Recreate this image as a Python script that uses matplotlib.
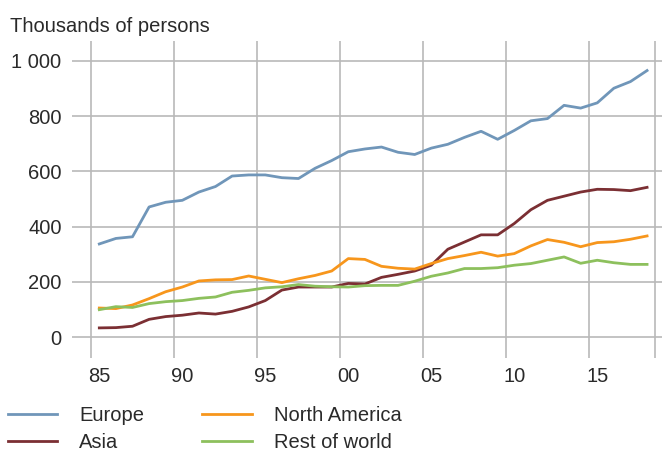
import matplotlib
matplotlib.use("Agg")
import matplotlib.pyplot as plt
from matplotlib.ticker import FixedLocator, FuncFormatter

years = list(range(1985, 2019))
europe = [337, 357, 363, 471, 488, 495, 525, 545, 583, 587, 587, 577, 574, 611, 639, 671,
          681, 688, 669, 661, 684, 698, 723, 745, 716, 748, 783, 791, 839, 829, 848, 901, 925, 965]
asia = [33, 34, 39, 64, 74, 79, 87, 83, 93, 109, 132, 170, 181, 181, 181, 194,
        192, 216, 227, 239, 260, 318, 344, 370, 370, 411, 461, 495, 510, 525, 535, 534, 530, 542]
north_america = [105, 103, 116, 139, 164, 181, 203, 207, 208, 221, 209, 197, 211, 223, 239, 284,
                 281, 256, 249, 246, 266, 284, 295, 307, 293, 302, 330, 353, 343, 327, 342, 345, 354, 366]
rest_of_world = [99, 110, 107, 121, 128, 132, 140, 145, 162, 169, 178, 182, 190, 184, 182, 181,
                 186, 187, 187, 202, 220, 232, 248, 248, 251, 260, 266, 278, 290, 267, 278, 269, 263, 263]

series = [("Europe", europe, "#7096b9"),
          ("Asia", asia, "#7b2f33"),
          ("North America", north_america, "#f7961c"),
          ("Rest of world", rest_of_world, "#8dc05d")]

tick_years = [1985, 1990, 1995, 2000, 2005, 2010, 2015]
tick_labels = ["85", "90", "95", "00", "05", "10", "15"]
y_ticks = [0, 200, 400, 600, 800, 1000]

plt.rcParams['font.family'] = ['Liberation Sans', 'DejaVu Sans']
text_color = "#2a2a2a"
grid_color = "#b9b9b9"
fs = 14.5

fig = plt.figure(figsize=(6.62, 4.54), dpi=100)
ax = fig.add_axes([72/662, 1 - 358/454, 1 - 72/662, (358 - 41)/454])

xs = [y + 0.5 for y in years]
handles = {}
for name, vals, col in series:
    h, = ax.plot(xs, vals, color=col, lw=2.0, solid_joinstyle='round', zorder=3)
    handles[name] = h

ax.set_xlim(1983.855, 2019.4)
ax.set_ylim(-76, 1072)

# gridlines at category boundaries, labels centered in the year
ax.xaxis.set_minor_locator(FixedLocator(tick_years + [2019]))
ax.set_xticks([t + 0.5 for t in tick_years])
ax.set_xticklabels(tick_labels)
ax.set_yticks(y_ticks)
ax.yaxis.set_major_formatter(FuncFormatter(lambda v, p: f"{int(v):,}".replace(",", " ")))

ax.grid(False)
ax.xaxis.grid(True, which='minor', color=grid_color, lw=1.2)
ax.yaxis.grid(True, which='major', color=grid_color, lw=1.2)
ax.tick_params(axis='both', which='both', length=0, labelsize=fs, colors=text_color)
ax.tick_params(axis='x', pad=6.5)
ax.tick_params(axis='y', pad=7.5)
for s in ax.spines.values():
    s.set_visible(False)

fig.text(10/662, 1 - 32/454, "Thousands of persons", fontsize=fs, color=text_color,
         ha='left', va='baseline')

leg = fig.legend([handles[n] for n in ["Europe", "Asia", "North America", "Rest of world"]],
                 ["Europe", "Asia", "North America", "Rest of world"],
                 ncol=2, loc='upper left', bbox_to_anchor=(8/662, 1 - 406/454),
                 frameon=False, fontsize=fs, handlelength=2.44, handletextpad=1.09,
                 columnspacing=2.9, labelspacing=0.42, borderpad=0, borderaxespad=0)
for t in leg.get_texts():
    t.set_color(text_color)

fig.savefig("out.png", dpi=100)
